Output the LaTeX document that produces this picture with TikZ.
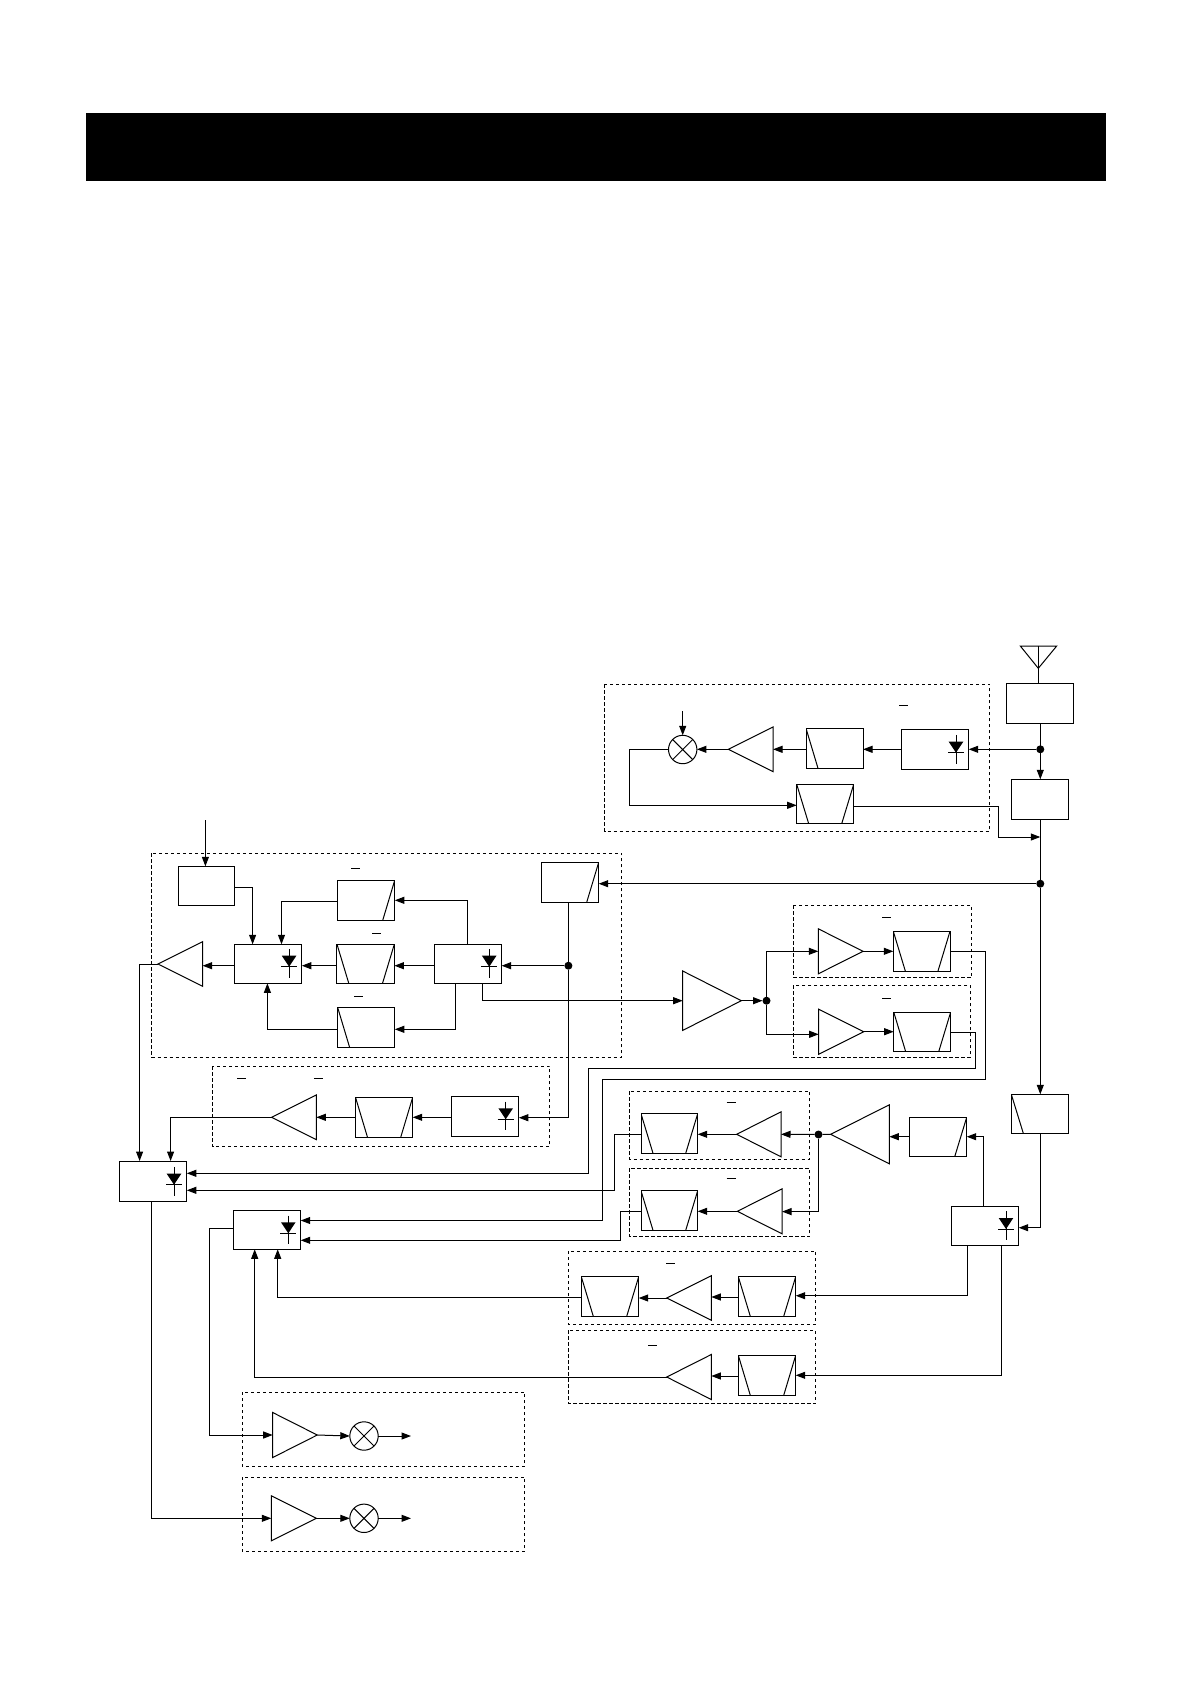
\documentclass[tikz,border=0pt]{standalone}
\usetikzlibrary{arrows.meta}
\tikzset{
  ln/.style={line width=1pt},
  arr/.style={ln,-{Triangle[length=9.5pt,width=7pt]}},
  wire/.style={ln},
  grp/.style={line width=0.9pt,dash pattern=on 3.2pt off 2.8pt},
  boxs/.style={draw,line width=1pt,rectangle,inner sep=0pt,outer sep=0pt},
  lslant/.style={path picture={\draw[line width=1pt] (path picture bounding box.north west) -- ([xshift=12pt]path picture bounding box.south west);}},
  rslant/.style={path picture={\draw[line width=1pt] (path picture bounding box.north east) -- ([xshift=-12pt]path picture bounding box.south east);}},
  bslant/.style={path picture={\draw[line width=1pt] (path picture bounding box.north west) -- ([xshift=12pt]path picture bounding box.south west);\draw[line width=1pt] (path picture bounding box.north east) -- ([xshift=-12pt]path picture bounding box.south east);}},
  mix/.style={draw,circle,line width=1pt,minimum size=28.4pt,inner sep=0pt,outer sep=0pt,path picture={\draw[line width=1pt] (path picture bounding box.north west) -- (path picture bounding box.south east) (path picture bounding box.north east) -- (path picture bounding box.south west);}},
  dot/.style={circle,fill=black,inner sep=0pt,outer sep=0pt,minimum size=8pt},
  hold/.style={rectangle,inner sep=0pt,outer sep=0pt}
}
% box: style, x1,y1,x2,y2,name
\newcommand\bx[6][]{\node[boxs,#1,minimum width={#4-#2},minimum height={#5-#3}] (#6) at ({(#2+#4)/2},{(#3+#5)/2}) {};}
% triangle: name, tip x, base x, centre y, half height
\newcommand\tr[5]{\node[hold,minimum width={abs(#2-#3)},minimum height={2*#5}] (#1) at ({(#2+#3)/2},#4) {};
  \draw[ln,line join=miter] (#3,#4-#5) -- (#2,#4) -- (#3,#4+#5) -- cycle;}
% diode: x, top of the triangle
\newcommand\dd[2]{\draw[ln] (#1,#2-6.8) -- (#1,#2+22);
  \fill (#1-7.3,#2) -- (#1+7.3,#2) -- (#1,#2+11) -- cycle;
  \draw[ln] (#1-8,#2+11) -- (#1+8,#2+11);}
% short bar
\newcommand\ov[3]{\draw[ln] (#1,#3) -- (#2,#3);}
\begin{document}
\begin{tikzpicture}[x=1pt,y=-1pt]
\useasboundingbox (0,0) rectangle (1190,1684);
\fill[white] (0,0) rectangle (1190,1684);
\fill[black] (86,113) rectangle (1106,180.5);

% dashed groups
\draw[grp] (604.7,684.3) rectangle (989.7,831.3);
\draw[grp] (151.7,853.3) rectangle (621.7,1057.3);
\draw[grp] (212.6,1066.3) rectangle (549.8,1146.7);
\draw[grp] (793.3,905.3) rectangle (971.7,977.3);
\draw[grp] (793.3,985.3) rectangle (970.3,1057.3);
\draw[grp] (629.7,1091.3) rectangle (809.7,1159.3);
\draw[grp] (629.7,1168.3) rectangle (809.7,1236.7);
\draw[grp] (568.3,1251) rectangle (815.7,1324.3);
\draw[grp] (568.3,1330.3) rectangle (815.7,1403.3);
\draw[grp] (242.3,1392) rectangle (524.7,1466.3);
\draw[grp] (242.3,1477) rectangle (524.7,1551.3);

% short bars
\ov{899.3}{907.7}{705.3}
\ov{351.4}{360}{868.3}
\ov{372}{381}{933.3}
\ov{354}{363}{996.3}
\ov{237}{246}{1078.3}
\ov{313.9}{323.2}{1078.3}
\ov{882}{891}{917.3}
\ov{882}{891}{998.3}
\ov{726.7}{735.7}{1102.3}
\ov{726.7}{735.7}{1178.3}
\ov{666}{675}{1263}
\ov{648.3}{657}{1345}

% antenna
\coordinate (ant) at (1038.3,646);
\draw[ln] (1020.3,646) -- (1056.7,646) -- (1038.3,668.3) -- cycle;

% top right
\bx{1006.3}{683.3}{1073.3}{723.3}{A}
\bx{1011.3}{779.3}{1068.7}{819.3}{B}
\bx{901.3}{729.3}{968.7}{769.3}{C}
\dd{956}{741.7}
\bx[lslant]{806}{728.3}{863}{768.3}{Cf}
\tr{Ct}{728.3}{773}{749.3}{22.3}
\node[mix] (Cm) at (682.7,749.5) {};
\bx[bslant]{796.7}{784.3}{853.7}{823.7}{Cb}
\node[dot] (d1) at (1040.3,749.3) {};
\node[dot] (d2) at (1040.3,883.7) {};
\coordinate (lo) at (682.7,711);
\coordinate (merge) at (1040.3,837);

% main group
\bx{178.2}{866.3}{234.7}{905.3}{In}
\coordinate (inp) at (205.4,820);
\bx{234.3}{944.3}{301.8}{983.3}{Dl}
\dd{289.1}{955.7}
\bx[rslant]{337.3}{880}{394.8}{920}{Ft}
\bx[bslant]{336.9}{944}{394.4}{983.7}{Fm}
\bx[lslant]{337.6}{1007.3}{394.8}{1047.3}{Fb}
\bx{434.4}{944.3}{501.6}{983.3}{Dr}
\dd{489.2}{955.7}
\tr{T1}{157.9}{202.6}{964}{22.3}
\bx[rslant]{541.5}{862.3}{598.7}{902.3}{Rs}
\node[dot] (d3) at (568.4,965.7) {};

% second group
\bx{451.3}{1096.3}{518.8}{1136.7}{F2}
\dd{505.7}{1108.3}
\bx[bslant]{355.5}{1097.3}{412.7}{1137.3}{B2}
\tr{T2}{271.5}{316.3}{1117.3}{22.3}

% left detector boxes
\bx{119.3}{1161}{186.8}{1201.3}{E}
\dd{174}{1173.7}
\bx{233.3}{1210.3}{300.7}{1249.3}{G}
\dd{288.3}{1222.3}

% amp and branches
\tr{Amp}{741.3}{682.7}{1000.7}{29.7}
\node[dot] (d4) at (766.5,1000.7) {};
\tr{Tu}{863}{818.3}{951.3}{22.5}
\bx[bslant]{893.3}{931.3}{950}{971}{Fu}
\tr{Tl}{863.7}{818.7}{1031.7}{22.5}
\bx[bslant]{893.7}{1012}{950.7}{1051.7}{Fl}

% lower right
\bx[lslant]{1011.3}{1094.3}{1068.7}{1133.3}{K}
\bx{951.3}{1206.3}{1018.7}{1245.3}{J}
\dd{1006}{1218}
\bx[rslant]{909.7}{1117.3}{966.7}{1156.7}{Rf}
\tr{Big}{830.7}{889.3}{1134.3}{29.5}
\node[dot] (d5) at (818.5,1134.5) {};
\tr{Su}{736.7}{781}{1134.3}{22.5}
\bx[bslant]{641}{1113.7}{697.7}{1153.3}{Pu}
\tr{Sl}{737.3}{782}{1211.3}{22.5}
\bx[bslant]{641}{1190.7}{697.7}{1230.3}{Pl}

\bx[bslant]{581.3}{1276.7}{638.7}{1316.3}{H1}
\tr{Th}{666.7}{711.3}{1298}{22.3}
\bx[bslant]{738.3}{1276.7}{795.7}{1316.3}{H2}
\tr{Ti}{666.7}{711.3}{1377}{22.5}
\bx[bslant]{738.3}{1355.3}{795.7}{1395.3}{I2}

% output stages
\tr{O1}{317.3}{272.7}{1435}{22.5}
\node[mix] (M1) at (364,1436) {};
\coordinate (e1) at (411,1436);
\tr{O2}{316.3}{271.3}{1518.3}{22.5}
\node[mix] (M2) at (364,1518.3) {};
\coordinate (e2) at (411,1518.3);

% connectors : top right
\draw[wire] (ant) -- (ant |- A.north);
\draw[arr] (A.south -| d1) -- (B.north -| d1);
\draw[arr] (d1) -- (C.east |- d1);
\draw[arr] (C.west |- d1) -- (Cf.east |- d1);
\draw[arr] (Cf.west |- d1) -- (Ct.east |- d1);
\draw[arr] (Ct.west |- d1) -- (Cm.east |- d1);
\draw[arr] (lo) -- (Cm.north);
\draw[arr] (Cm.west) -- (629.3,749.5) -- (629.3,805.3) -- (Cb.west |- 0,805.3);
\draw[arr] (Cb.east |- 0,806.3) -- (998.3,806.3) -- (998.3,837) -- (merge);
\draw[wire] (B.south -| d1) -- (d2);
\draw[arr] (d2) -- (K.north -| d2);
\draw[arr] (d2) -- (Rs.east |- d2);
\draw[wire] (Rs.south -| d3) -- (d3);
\draw[arr] (d3) -- (568.4,1117.7) -- (F2.east |- 0,1117.7);

% connectors : main group
\draw[arr] (inp) -- (In.north -| inp);
\draw[arr] (In.east |- 0,887.3) -- (252.6,887.3) -- (252.6,944.3);
\draw[arr] (d3) -- (Dr.east |- d3);
\draw[arr] (Dr.west |- d3) -- (Fm.east |- d3);
\draw[arr] (Fm.west |- d3) -- (Dl.east |- d3);
\draw[arr] (Dl.west |- d3) -- (T1.east |- d3);
\draw[arr] (467.4,944.3) -- (467.4,900.3) -- (Ft.east |- 0,900.3);
\draw[arr] (Ft.west |- 0,901.3) -- (281.5,901.3) -- (281.5,944.3);
\draw[arr] (455.7,983.3) -- (455.7,1029.3) -- (Fb.east |- 0,1029.3);
\draw[arr] (Fb.west |- 0,1029.3) -- (267.4,1029.3) -- (267.4,983.3);
\draw[arr] (482.3,983.3) -- (482.3,1000.7) -- (Amp.west);
\draw[arr] (T1.west) -- (139.6,964) -- (139.6,1161);

% connectors : second group
\draw[arr] (F2.west |- 0,1117.3) -- (B2.east |- 0,1117.3);
\draw[arr] (B2.west |- 0,1117.3) -- (T2.east);
\draw[arr] (T2.west) -- (170.6,1117.3) -- (170.6,1161);

% connectors : amp branches
\draw[arr] (Amp.east) -- (d4);
\draw[arr] (d4) -- (d4 |- Tu.west) -- (Tu.west);
\draw[arr] (d4) -- (766.5,1034.3) -- (Tl.west |- 0,1034.3);
\draw[arr] (Tu.east) -- (Fu.west |- Tu.east);
\draw[arr] (Tl.east) -- (Fl.west |- Tl.east);
\draw[arr] (Fu.east |- 0,951.3) -- (985.7,951.3) -- (985.7,1079.3) -- (602.7,1079.3) -- (602.7,1220.5) -- (G.east |- 0,1220.5);
\draw[arr] (Fl.east |- 0,1032.3) -- (975.7,1032.3) -- (975.7,1068.3) -- (588.3,1068.3) -- (588.3,1173.3) -- (E.east |- 0,1173.3);

% connectors : lower right
\draw[arr] (K.south -| 1040.7,0) -- (1040.7,1227.7) -- (J.east |- 0,1227.7);
\draw[arr] (983.3,1206.3) -- (983.3,1136.7) -- (Rf.east |- 0,1136.7);
\draw[arr] (Rf.west |- 0,1136.7) -- (Big.east |- 0,1136.7);
\draw[wire] (Big.west) -- (d5);
\draw[arr] (d5) -- (Su.east);
\draw[arr] (Su.west) -- (Pu.east |- Su.west);
\draw[arr] (d5) -- (818.5,1211.6) -- (Sl.east |- 0,1211.6);
\draw[arr] (Sl.west) -- (Pl.east |- Sl.west);
\draw[arr] (Pu.west |- 0,1134.3) -- (614.7,1134.3) -- (614.7,1190.3) -- (E.east |- 0,1190.3);
\draw[arr] (Pl.west |- 0,1211.3) -- (620.5,1211.3) -- (620.5,1240.3) -- (G.east |- 0,1240.3);

\draw[arr] (967.3,1245.3) -- (967.3,1295.7) -- (H2.east |- 0,1295.7);
\draw[arr] (H2.west |- 0,1297) -- (Th.east |- 0,1297);
\draw[arr] (Th.west) -- (H1.east |- Th.west);
\draw[arr] (H1.west |- 0,1297) -- (277.7,1297) -- (277.7,1249.3);
\draw[arr] (1001.7,1245.3) -- (1001.7,1375.3) -- (I2.east |- 0,1375.3);
\draw[arr] (I2.west |- 0,1376) -- (Ti.east |- 0,1376);
\draw[arr] (Ti.west) -- (254.7,1377) -- (254.7,1249.3);

% connectors : outputs
\draw[arr] (G.west |- 0,1228.3) -- (209.3,1228.3) -- (209.3,1435) -- (O1.west);
\draw[arr] (151.7,1201.3) -- (151.7,1518.3) -- (O2.west);
\draw[arr] (O1.east) -- (M1.west);
\draw[arr] (O2.east) -- (M2.west);
\draw[arr] (M1.east) -- (e1);
\draw[arr] (M2.east) -- (e2);
\end{tikzpicture}
\end{document}
